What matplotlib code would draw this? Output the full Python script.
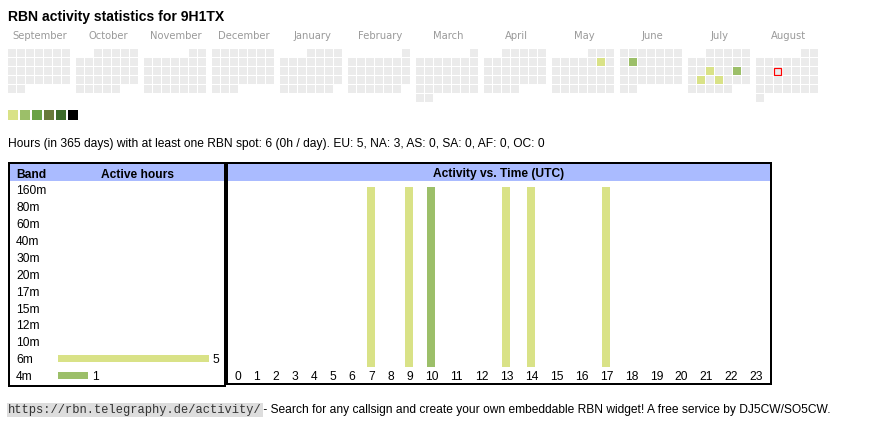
import datetime as dt
import matplotlib
matplotlib.use("Agg")
import matplotlib.pyplot as plt
from matplotlib.patches import Rectangle

# ---------------- data ----------------
title = "RBN activity statistics for 9H1TX"
months = ["September", "October", "November", "December", "January", "February",
          "March", "April", "May", "June", "July", "August"]
start_date = dt.date(2024, 9, 1)
today = dt.date(2025, 8, 12)
active_days = ["2025-05-09", "2025-06-09", "2025-07-15", "2025-07-18", "2025-07-21", "2025-07-23"]
active_day_levels = [1, 2, 1, 2, 1, 1]
level_colors = ["#d9e287", "#9cbf69", "#6aa245", "#687a3a", "#3d6b2a", "#000000"]

stats_text = ("Hours (in 365 days) with at least one RBN spot: 6 (0h / day). "
              "EU: 5, NA: 3, AS: 0, SA: 0, AF: 0, OC: 0")

bands = ["160m", "80m", "60m", "40m", "30m", "20m", "17m", "15m", "12m", "10m", "6m", "4m"]
band_hours = [0, 0, 0, 0, 0, 0, 0, 0, 0, 0, 5, 1]
band_levels = [0, 0, 0, 0, 0, 0, 0, 0, 0, 0, 1, 2]

hours = list(range(24))
active_hours = [7, 9, 10, 13, 14, 17]
active_hour_levels = [1, 1, 2, 1, 1, 1]

url_text = "https://rbn.telegraphy.de/activity/"
footer_text = " - Search for any callsign and create your own embeddable RBN widget! A free service by DJ5CW/SO5CW."

# ---------------- style / layout ----------------
W, H = 870, 424
PT = 72 / 100.0
SANS = ["Liberation Sans", "DejaVu Sans"]
MONO = ["Liberation Mono", "DejaVu Sans Mono"]
GRAY = "#ebebeb"
HEAD = "#aabbff"

fig = plt.figure(figsize=(W / 100, H / 100), dpi=100)
fig.patch.set_facecolor("white")

ov = fig.add_axes([0, 0, 1, 1])
ov.set_xlim(0, W)
ov.set_ylim(H, 0)
ov.set_axis_off()


def px_axes(x0, y0, x1, y1):
    ax = fig.add_axes([x0 / W, 1 - y1 / H, (x1 - x0) / W, (y1 - y0) / H])
    ax.set_axis_off()
    return ax


# title
ov.text(8, 21, title, fontsize=14 * PT, fontweight="bold", family=SANS,
        va="baseline", ha="left", color="#000000")

# ---------------- calendar ----------------
CELL, PITCH, BLOCK = 8, 9, 68
CX0, CY0 = 8, 49
active = {dt.date.fromisoformat(d): lv for d, lv in zip(active_days, active_day_levels)}

for m, name in enumerate(months):
    bx = CX0 + m * BLOCK
    ov.text(bx + 7 * PITCH / 2 + 0.5, 39, name, color="#9a9a9a", fontsize=10 * PT,
            family=["DejaVu Sans"], ha="center", va="baseline")

d = start_date
while d <= start_date + dt.timedelta(days=364):
    m = (d.year - start_date.year) * 12 + d.month - start_date.month
    first = d.replace(day=1)
    first_col = (first.weekday() + 1) % 7
    col = (d.weekday() + 1) % 7
    row = (d.day - 1 + first_col) // 7
    x = CX0 + m * BLOCK + col * PITCH
    y = CY0 + row * PITCH
    fc = level_colors[active[d] - 1] if d in active else GRAY
    ov.add_patch(Rectangle((x, y), CELL, CELL, facecolor=fc, edgecolor="none"))
    if d == today:
        ov.add_patch(Rectangle((x + 0.5, y + 0.5), CELL - 1, CELL - 1, facecolor="none",
                               edgecolor="#ff0000", linewidth=1.2 * PT))
    d += dt.timedelta(days=1)

# legend squares
for i, c in enumerate(level_colors):
    ov.add_patch(Rectangle((8 + i * 12, 110), 10, 10, facecolor=c, edgecolor="none"))

# stats line
ov.text(8, 147, stats_text, fontsize=12 * PT, family=SANS, va="baseline", ha="left")

# ---------------- tables frame ----------------
ov.add_patch(Rectangle((10, 164), 214, 17, facecolor=HEAD, edgecolor="none"))
ov.add_patch(Rectangle((228, 164), 542, 17, facecolor=HEAD, edgecolor="none"))
ov.add_patch(Rectangle((9, 163), 216, 223, facecolor="none", edgecolor="black",
                       linewidth=2 * PT, joinstyle="miter", zorder=5))
ov.add_patch(Rectangle((227, 163), 544, 221, facecolor="none", edgecolor="black",
                       linewidth=2 * PT, joinstyle="miter", zorder=5))

ov.text(16, 177.5, "Band", fontsize=12 * PT, fontweight="bold", family=SANS,
        ha="left", va="baseline")
ov.text(138, 177.5, "Active hours", fontsize=12 * PT, fontweight="bold", family=SANS,
        ha="center", va="baseline")
ov.text(499, 177.5, "Activity vs. Time (UTC)", fontsize=12 * PT, fontweight="bold",
        family=SANS, ha="center", va="baseline")

# ---------------- band bar chart ----------------
PX_PER_HOUR = 30.2
BAR_X0 = 58
ROW0, ROWP = 190.2, 16.86
BX0, BY0, BX1, BY1 = 10, 181, 224, 385
axb = px_axes(BX0, BY0, BX1, BY1)
axb.set_xlim((BX0 - BAR_X0) / PX_PER_HOUR, (BX1 - BAR_X0) / PX_PER_HOUR)
axb.set_ylim((BY1 - ROW0) / ROWP, (BY0 - ROW0) / ROWP)
ypos = list(range(len(bands)))
bcolors = [level_colors[lv - 1] if lv > 0 else "none" for lv in band_levels]
axb.barh(ypos, band_hours, height=7 / ROWP, color=bcolors, linewidth=0)
base_off = 4.3 / ROWP
for i, (b, v) in enumerate(zip(bands, band_hours)):
    axb.text((16 - BAR_X0) / PX_PER_HOUR, i + base_off, b, fontsize=12 * PT, family=SANS,
             ha="left", va="baseline")
    if v > 0:
        axb.text(v + 4 / PX_PER_HOUR, i + base_off, str(v), fontsize=12 * PT, family=SANS,
                 ha="left", va="baseline")

# ---------------- activity vs time ----------------
TX0, TY0, TX1, TY1 = 228, 181, 770, 383
axt = px_axes(TX0, TY0, TX1, TY1)
widths = [19.1 if h < 10 else 25.0 for h in hours]
centers = []
acc = 0.0
for w in widths:
    centers.append(acc + w / 2)
    acc += w
axt.set_xlim(0, TX1 - TX0)
BAR_TOP, BAR_BOT = 187, 367
span = BAR_BOT - BAR_TOP
axt.set_ylim((BAR_BOT - TY1) / span, (BAR_BOT - TY0) / span)
axt.bar([centers[h] for h in active_hours], [1] * len(active_hours), width=8,
        color=[level_colors[lv - 1] for lv in active_hour_levels], linewidth=0)
for h in hours:
    axt.text(centers[h], (BAR_BOT - 380) / span, str(h), fontsize=12 * PT, family=SANS,
             ha="center", va="baseline")

# ---------------- footer ----------------
ov.text(8, 413, url_text, fontsize=12 * PT, family=MONO, ha="left", va="baseline",
        color="#333333",
        bbox=dict(boxstyle="square,pad=0.12", facecolor="#dddddd", edgecolor="none"))
ov.text(260, 413, footer_text, fontsize=12 * PT, family=SANS, ha="left", va="baseline")

fig.savefig("out.png", dpi=100, facecolor="white")
